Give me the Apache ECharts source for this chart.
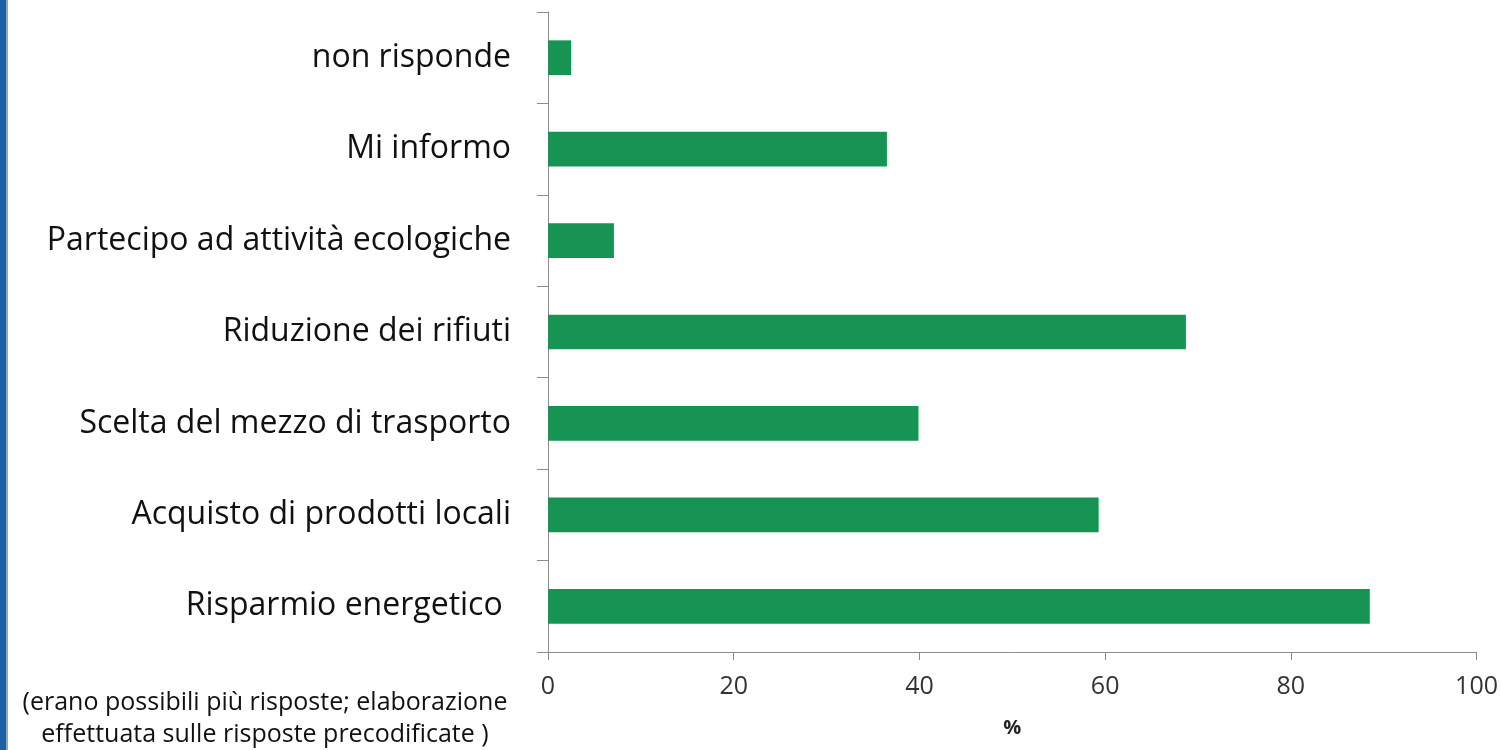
<!DOCTYPE html>
<html>
<head>
<meta charset="utf-8">
<script src="https://cdn.jsdelivr.net/npm/echarts@6/dist/echarts.min.js"></script>
<style>
  html, body { margin: 0; padding: 0; background: #fff; }
  #chart { width: 1501px; height: 750px; }
</style>
</head>
<body>
<div id="chart"></div>
<script>
// categories from bottom to top (category axis on y starts at the bottom)
const categories = [
  "Risparmio energetico ",
  "Acquisto di prodotti locali",
  "Scelta del mezzo di trasporto",
  "Riduzione dei rifiuti",
  "Partecipo ad attività ecologiche",
  "Mi informo",
  "non risponde",
];
const values = [88.5, 59.3, 39.9, 68.7, 7.1, 36.5, 2.5];
const xTicks = { min: 0, max: 100, step: 20 };
const noteText = "(erano possibili più risposte; elaborazione\neffettuata sulle risposte precodificate )";

const chart = echarts.init(document.getElementById("chart"));

const option = {
  animation: false,
  textStyle: { fontFamily: "Open Sans" },
  grid: {
    left: 548,
    right: 23,
    top: 12,
    bottom: 98,
  },
  xAxis: {
    type: "value",
    min: xTicks.min,
    max: xTicks.max,
    interval: xTicks.step,
    name: "%",
    nameLocation: "middle",
    nameGap: 66,
    nameTextStyle: {
      color: "#222",
      fontSize: 20,
      fontWeight: "bold",
      fontFamily: "Open Sans",
    },
    axisLine: { show: true, lineStyle: { color: "#8c8c8c", width: 1 } },
    axisTick: { show: true, length: 8, lineStyle: { color: "#8c8c8c" } },
    axisLabel: {
      color: "#333",
      fontSize: 25,
      margin: 22,
      fontFamily: "Open Sans",
    },
    splitLine: { show: false },
  },
  yAxis: {
    type: "category",
    data: categories,
    axisLine: { show: true, lineStyle: { color: "#8c8c8c", width: 1 } },
    axisTick: { show: true, length: 11, lineStyle: { color: "#8c8c8c" } },
    axisLabel: {
      color: "#111",
      fontSize: 32,
      margin: 37,
      fontFamily: "Open Sans",
    },
  },
  series: [
    {
      name: "valori",
      type: "bar",
      data: values,
      barCategoryGap: "62%",
      itemStyle: { color: "#179454" },
    },
  ],
  graphic: [
    {
      type: "rect",
      left: 0,
      top: 0,
      shape: { width: 6, height: 750 },
      style: { fill: "#1f5fa6" },
    },
    {
      type: "rect",
      left: 6,
      top: 0,
      shape: { width: 2, height: 750 },
      style: { fill: "#9aa4b0" },
    },
    {
      type: "text",
      x: 265,
      y: 687,
      style: {
        text: noteText,
        fill: "#111",
        fontSize: 25,
        fontFamily: "Open Sans",
        align: "center",
        lineHeight: 32,
      },
    },
  ],
};

chart.setOption(option);
</script>
</body>
</html>
